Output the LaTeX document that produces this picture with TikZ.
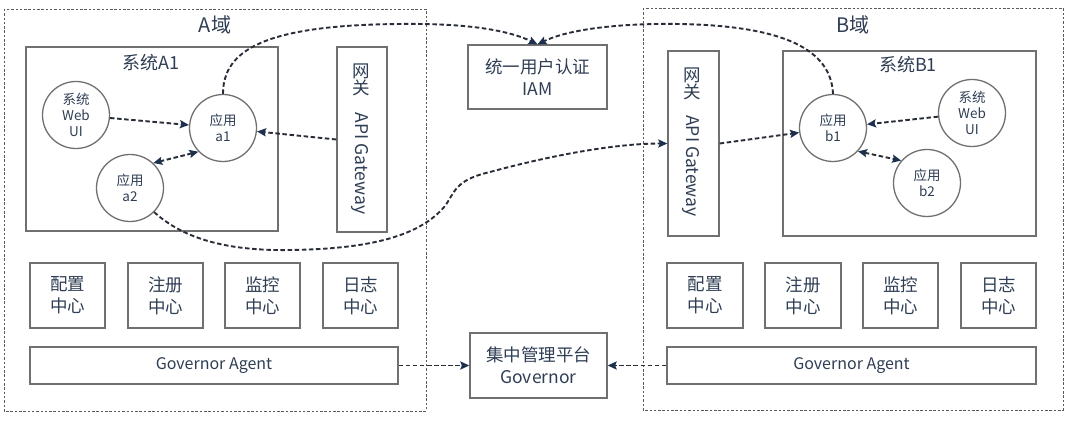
\documentclass[tikz,border=0pt]{standalone}
\usepackage{fontspec}
\setmainfont{Noto Sans CJK SC}
\usetikzlibrary{arrows.meta}
\definecolor{tc}{RGB}{47,62,84}
\definecolor{bc}{RGB}{112,112,112}
\definecolor{lc}{RGB}{40,45,56}
\definecolor{ac}{RGB}{28,48,78}
\definecolor{dc}{RGB}{90,90,90}
\tikzset{mytip/.tip={Stealth[length=9pt,width=8pt,inset=1.5pt,color=ac]}}
\begin{document}
\begin{tikzpicture}[x=1pt,y=1pt,
  box/.style={draw=bc, line width=1.3pt, fill=white, text=tc, align=center, inner sep=0pt},
  domainbox/.style={draw=dc, line width=0.8pt, dash pattern=on 2.5pt off 1.8pt},
  circ/.style={circle, draw=bc, line width=1.3pt, fill=white, minimum size=67pt, inner sep=0pt, text=tc, align=center, font=\fontsize{13.5}{16}\selectfont},
  conn/.style={draw=lc, line width=1.9pt, dash pattern=on 4.5pt off 2.6pt, -mytip},
  biconn/.style={conn, mytip-mytip},
  lbl/.style={text=tc, inner sep=0pt},
  bigf/.style={font=\fontsize{17.5}{22}\selectfont},
]
\fill[white] (0,0) rectangle (1080,-422);
% domains
\draw[domainbox] (4,-9) rectangle (426,-411);
\draw[domainbox] (643,-8) rectangle (1063,-410);
\node[lbl, font=\fontsize{20}{24}\selectfont] (labA) at (215,-25) {A域};
\node[lbl, font=\fontsize{20}{24}\selectfont] (labB) at (853,-25) {B域};
% systems
\node[box, minimum width=252pt, minimum height=184pt] (sysA) at (152,-139) {};
\node[lbl, font=\fontsize{18}{22}\selectfont] (sysAt) at (151,-63) {系统A1};
\node[box, minimum width=253pt, minimum height=185pt] (sysB) at (909.5,-143.5) {};
\node[lbl, font=\fontsize{18}{22}\selectfont] (sysBt) at (908,-65) {系统B1};
% gateways
\node[box, minimum width=50pt, minimum height=185pt] (gwA) at (362,-139.5) {};
\node[lbl, bigf, align=center, font=\fontsize{17.5}{17.5}\selectfont] (gwAt1) at (361,-80) {网\\关};
\node[lbl, bigf, rotate=-90] (gwAt2) at (360,-163.5) {API Gateway};
\node[box, minimum width=51pt, minimum height=185pt] (gwB) at (693.5,-143.5) {};
\node[lbl, bigf, align=center, font=\fontsize{17.5}{17.5}\selectfont] (gwBt1) at (692,-84) {网\\关};
\node[lbl, bigf, rotate=-90] (gwBt2) at (691,-166) {API Gateway};
% IAM
\node[box, bigf, minimum width=139pt, minimum height=64pt] (iam) at (537.5,-77) {统一用户认证\\IAM};
% circles
\node[circ] (webA) at (76,-115) {系统\\Web\\UI};
\node[circ] (a1) at (223,-128) {应用\\a1};
\node[circ] (a2) at (130,-188) {应用\\a2};
\node[circ] (b1) at (833,-128) {应用\\b1};
\node[circ] (webB) at (972,-113) {系统\\Web\\UI};
\node[circ] (b2) at (927,-183) {应用\\b2};
% bottom A
\node[box, bigf, minimum width=75pt, minimum height=65pt] (cfgA) at (67.5,-295.5) {配置\\中心};
\node[box, bigf, minimum width=75pt, minimum height=65pt] (regA) at (165.5,-295.5) {注册\\中心};
\node[box, bigf, minimum width=75pt, minimum height=65pt] (monA) at (262.5,-295.5) {监控\\中心};
\node[box, bigf, minimum width=75pt, minimum height=65pt] (logA) at (360.5,-295.5) {日志\\中心};
\node[box, font=\fontsize{16}{20}\selectfont, minimum width=368pt, minimum height=37pt] (gaA) at (214,-365.5) {Governor Agent};
% bottom B
\node[box, bigf, minimum width=76pt, minimum height=65pt] (cfgB) at (705,-295.5) {配置\\中心};
\node[box, bigf, minimum width=76pt, minimum height=65pt] (regB) at (803,-295.5) {注册\\中心};
\node[box, bigf, minimum width=75pt, minimum height=65pt] (monB) at (900.5,-295.5) {监控\\中心};
\node[box, bigf, minimum width=75pt, minimum height=65pt] (logB) at (998.5,-295.5) {日志\\中心};
\node[box, font=\fontsize{16}{20}\selectfont, minimum width=369pt, minimum height=37pt] (gaB) at (851.5,-365.5) {Governor Agent};
% governor
\node[box, bigf, minimum width=137pt, minimum height=65pt] (gov) at (538.5,-365.5) {集中管理平台\\Governor};
% connectors
\draw[conn] (webA) -- (a1);
\draw[conn] (gwA.west) -- (a1);
\draw[biconn] (a1.224) -- (a2.47);
\draw[conn] (webB) -- (b1);
\draw[conn] (gwB.east) -- (b1);
\draw[biconn] (b1.317) -- (b2.139);
\draw[conn] (gaA.east) -- (gov.west);
\draw[conn] (gaB.west) -- (gov.east);
\draw[conn] (a1.north) .. controls (223,-50) and (265,-25) .. (400,-24)
  .. controls (470,-23) and (510,-31) .. (iam.north);
\draw[conn] (b1.north) .. controls (831,-50) and (785,-26) .. (680,-24)
  .. controls (610,-23) and (565,-31) .. (iam.north);
\draw[conn] (a2.-45) .. controls (185,-240) and (230,-251) .. (290,-250)
  .. controls (370,-249) and (420,-236) .. (445,-206)
  .. controls (455,-192) and (455,-180) .. (490,-172)
  .. controls (560,-153) and (620,-143.5) .. (gwB.west);
\end{tikzpicture}
\end{document}
